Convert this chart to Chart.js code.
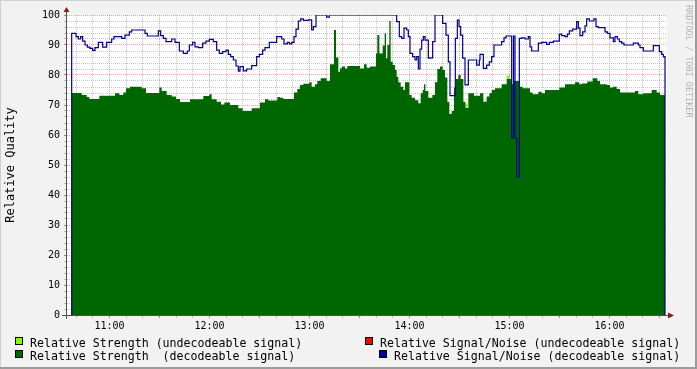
<!DOCTYPE html>
<html>
<head>
<meta charset="utf-8">
<script src="https://cdn.jsdelivr.net/npm/chart.js@4.4.0/dist/chart.umd.min.js"></script>
<style>
html,body{margin:0;padding:0;background:#f2f2f2;}
#wrap{position:relative;width:697px;height:369px;background:#f2f2f2;overflow:hidden;font-family:"DejaVu Sans Mono",monospace;
  box-shadow: inset -2px -2px 0 #9c9c9c, inset 1px 1px 0 #d0d0d0;}
canvas{position:absolute;left:0;top:0;}
.lg{position:absolute;font-size:11.6px;line-height:13px;color:#000;white-space:pre;}
.sw{position:absolute;width:6px;height:6px;border:1px solid #000;}
#wm{position:absolute;left:684px;top:5px;writing-mode:vertical-rl;font-size:8.5px;line-height:10px;color:#b4b4b4;white-space:pre;}
</style>
</head>
<body>
<div id="wrap">
<canvas id="c" width="697" height="369"></canvas>
<div class="sw" style="left:15px;top:337px;background:#80ff00"></div>
<div class="lg" style="left:30px;top:337px">Relative Strength (undecodeable signal)</div>
<div class="sw" style="left:15px;top:350px;background:#006600"></div>
<div class="lg" style="left:30px;top:350px">Relative Strength  (decodeable signal)</div>
<div class="sw" style="left:365px;top:337px;background:#ff0000"></div>
<div class="lg" style="left:380px;top:337px">Relative Signal/Noise (undecodeable signal)</div>
<div class="sw" style="left:379px;top:350px;background:#000099"></div>
<div class="lg" style="left:394px;top:350px">Relative Signal/Noise (decodeable signal)</div>
<div id="wm">RRDTOOL / TOBI OETIKER</div>
</div>
<script>
// time axis in minutes after 10:00
const hourMinutes = [60, 120, 180, 240, 300, 360];
const hourLabels = ['11:00', '12:00', '13:00', '14:00', '15:00', '16:00'];
const yLabelValues = [0, 10, 20, 30, 40, 50, 60, 70, 80, 90, 100];

// Relative Strength (decodeable signal): step start times (min after 10:00) and values
const strengthTimes = [
  37.3,43.3,46.3,47.9,53.9,63.3,65.9,68.3,69.9,72.3,
  79.3,81.9,89.9,91.3,94.3,97.3,99.9,102.3,108.3,116.3,
  119.9,121.3,124.3,126.9,128.9,132.3,137.3,139.9,145.3,150.3,
  153.3,155.3,160.7,162.3,164.3,170.7,172.7,174.3,176.3,179.9,
  181.3,183.3,184.7,186.7,190.3,192.3,194.7,195.9,197.3,198.3,
  199.3,201.3,202.7,210.3,212.7,214.3,216.3,219.9,220.7,221.9,
  223.9,225.1,225.9,226.7,227.9,228.7,229.9,231.3,232.3,233.3,
  234.7,236.3,237.3,239.9,241.3,243.3,245.3,246.7,247.9,248.7,
  249.5,251.3,253.7,255.3,256.7,258.3,259.9,261.3,262.7,263.9,
  265.3,266.7,267.9,269.3,270.7,272.3,273.5,275.3,278.7,282.3,
  284.3,286.3,287.9,289.3,291.3,295.3,298.3,301.3,302.3,305.9,
  307.9,312.3,313.9,317.3,319.3,321.3,329.9,333.3,339.3,341.9,
  343.3,346.7,349.9,352.7,354.3,358.3,360.3,362.3,364.3,366.3,
  375.3,377.3,380.3,385.3,388.3,390.3,393.3
];
const strengthValues = [
  74,73.3,72.7,72,73.1,73.9,73.3,74.2,75.6,76.1,
  75.6,74,75.8,74.7,73.3,72.8,72,71,71.9,73,
  73.6,71.9,71.1,70.2,70.8,70,68.9,68,68.9,70.8,
  71.9,71.5,72.7,72.4,72,74.2,75.3,76.7,77.1,77.6,
  76.1,76.9,78,78.9,78,83.6,95,85.8,81.1,82.2,
  82.8,82.2,83,82.2,83.6,82.4,82.8,87.2,93.3,87.2,
  89.8,93.9,85.6,90,98,84.4,83.3,81.7,79.4,77.6,
  76.1,75,77.6,73.3,72.4,71.6,70.6,73.9,75,76.9,
  74.7,72.4,73.3,77.6,82,82.8,81.7,79.2,71.1,67,
  68,75.8,78.7,80,78.7,71.1,69,73.9,73.1,73.9,
  71.1,72.8,73.9,75,75.6,76.9,78.7,76.9,78,76.1,
  75.6,74.2,73.6,74.4,73.9,75,75.8,76.9,77.6,76.9,
  77.2,77.8,78.9,78,76.9,76.7,75.8,76.1,75.3,74.2,
  74.7,73.6,73.9,75,74.2,73.3,73.3
];

// Relative Strength (undecodeable signal): short intervals
const undecStart = [273.3, 298.5];
const undecEnd = [274.7, 300.3];
const undecValues = [70.5, 79.8];

// Relative Signal/Noise (decodeable signal)
const snrTimes = [
  37.3,39.9,41.3,42.7,43.9,45.3,46.7,48.3,49.9,51.3,
  53.3,55.9,58.3,61.3,62.7,67.3,69.3,71.9,73.3,81.3,
  82.7,89.3,90.7,92.3,93.9,97.3,99.3,101.9,104.3,106.7,
  107.9,109.9,111.3,113.3,115.9,117.9,119.9,122.3,124.3,125.9,
  127.9,129.9,131.3,132.7,134.3,135.9,137.3,138.3,140.3,142.3,
  145.3,148.3,149.9,151.9,153.3,155.9,160.3,163.3,164.7,166.7,
  167.9,169.3,170.7,171.9,173.3,174.7,176.3,179.3,181.3,182.3,
  183.9,190.3,191.9,232.3,233.9,235.3,236.7,238.3,239.3,240.3,
  241.9,243.3,244.3,245.3,246.3,247.3,248.3,249.3,251.3,252.3,
  253.9,255.3,259.9,261.9,263.3,264.3,267.5,268.7,269.7,270.7,
  271.9,273.3,275.3,280.3,281.9,282.3,284.3,286.3,287.9,289.3,
  290.7,295.3,296.7,297.9,301.3,302.4,303.3,304.3,305.9,307.3,
  309.3,311.3,312.3,313.3,317.3,319.3,322.3,323.9,326.3,329.9,
  331.3,333.3,334.7,335.9,337.9,340.3,341.3,342.3,343.9,345.3,
  346.3,347.9,350.7,351.9,353.3,357.3,358.7,360.3,362.3,363.3,
  364.7,365.9,367.3,368.7,374.3,377.3,378.3,380.3,386.3,389.9,
  391.3,392.3,393.3
];
const snrValues = [
  93.9,92.8,92,92.8,91.3,90,89.3,88.9,88.2,89.1,
  90.9,89.3,90.9,92,92.8,92.2,93.3,94.4,95,93.9,
  93,94.7,93.1,92.2,91.1,92,90.9,88,87.2,88,
  90,90.9,89.4,89.1,90.6,91.3,91.9,91.1,88.3,87.2,
  87.8,88.3,86.9,86.1,85,83,81.3,82.8,81.4,82,
  83.1,86.1,86.9,88.3,89.1,90.9,92.8,92,90.4,90.9,
  90.4,90.9,92.8,95.3,98,98.7,98.2,98.4,95,96.1,
  100,99.3,100,97.8,92.8,92.2,95.6,95,92.8,87.2,
  86.1,85,86.1,82,88.6,91.6,92.8,91.6,85.6,85.7,
  91.1,100,97.2,93.3,84.4,73.1,92.2,98.3,96.1,93.3,
  85.6,76.7,85,83.3,85,86.9,82.2,83.3,84.4,86.1,
  90,91.1,92.4,93,59,93,59,46,92.2,92.4,
  92,92.8,89.4,88,90.6,90.9,90.2,90.9,91.3,93.6,
  93.1,92.8,93.6,94.7,95.3,97.8,95.6,93.1,94.4,96.4,
  98.7,98,98.7,96.1,95.8,94.4,93.9,92.4,91.1,92.8,
  92,91.1,90.6,90,90.6,90,89.1,88,89.8,87.8,
  86.9,86.1,86.1
];

// Relative Signal/Noise (undecodeable signal): nothing visible
const snrUndecTimes = [];
const snrUndecValues = [];

// each value holds from its time until the next time (Chart.js 'before' stepping keeps the previous value)
const toPts = (ts, vs) => ts.map((t, i) => ({x: t, y: vs[i]}));
const strengthPts = toPts(strengthTimes, strengthValues);
const snrPts = [{x: snrTimes[0], y: 0}].concat(toPts(snrTimes, snrValues), [{x: snrTimes[snrTimes.length - 1], y: 0}]);
const undecPts = [];
undecStart.forEach((s, i) => {
  undecPts.push({x: s, y: undecValues[i]}, {x: undecEnd[i], y: undecValues[i]}, {x: undecEnd[i] + 0.05, y: null});
});

const xTickValues = [];
for (let m = 40; m <= 390; m += 10) xTickValues.push(m);
const yTickValues = [];
for (let v = 0; v <= 100; v += 2) yTickValues.push(v);

const MINOR = 'rgba(160,160,160,0.6)';
const MAJOR = 'rgba(225,70,70,0.5)';
const MONO = 'DejaVu Sans Mono';

const frame = {
  id: 'frame',
  beforeDraw(chart) {
    const a = chart.chartArea, g = chart.ctx;
    g.save();
    g.fillStyle = '#ffffff';
    g.fillRect(a.left, a.top, a.right - a.left, a.bottom - a.top);
    g.restore();
  },
  afterDraw(chart) {
    const a = chart.chartArea, g = chart.ctx;
    const ax = a.left - 0.5, ay = a.bottom + 0.5;
    g.save();
    g.strokeStyle = '#505050';
    g.lineWidth = 1;
    g.beginPath();
    g.moveTo(ax, a.bottom + 4); g.lineTo(ax, a.top - 5);
    g.moveTo(a.left - 5, ay); g.lineTo(a.right + 2, ay);
    g.stroke();
    g.fillStyle = '#8c1a1a';
    g.beginPath();
    g.moveTo(ax - 3, a.top - 3); g.lineTo(ax + 3, a.top - 3); g.lineTo(ax, a.top - 8); g.closePath();
    g.fill();
    g.beginPath();
    g.moveTo(a.right + 1, ay - 3); g.lineTo(a.right + 1, ay + 3); g.lineTo(a.right + 7, ay); g.closePath();
    g.fill();
    g.restore();
  }
};

new Chart(document.getElementById('c'), {
  type: 'line',
  data: {
    datasets: [
      {label: 'Relative Signal/Noise (decodeable signal)', data: snrPts, borderColor: '#00008f', borderWidth: 1.2,
       stepped: 'before', fill: false, pointRadius: 0, order: 0},
      {label: 'Relative Signal/Noise (undecodeable signal)', data: toPts(snrUndecTimes, snrUndecValues), borderColor: '#ff0000',
       borderWidth: 1.2, stepped: 'before', fill: false, pointRadius: 0, order: 1},
      {label: 'Relative Strength (decodeable signal)', data: strengthPts, borderWidth: 0, backgroundColor: '#006600',
       stepped: 'before', fill: 'origin', pointRadius: 0, order: 2},
      {label: 'Relative Strength (undecodeable signal)', data: undecPts, borderWidth: 0, backgroundColor: '#80ff00',
       stepped: 'before', fill: 'origin', pointRadius: 0, order: 3}
    ]
  },
  options: {
    responsive: false,
    animation: false,
    devicePixelRatio: 1,
    events: [],
    layout: {padding: {left: 0, top: 15, right: 30, bottom: 0}},
    plugins: {legend: {display: false}, tooltip: {enabled: false}},
    scales: {
      x: {
        type: 'linear', min: 34.5, max: 394.5, z: 1,
        afterBuildTicks: s => { s.ticks = xTickValues.map(v => ({value: v})); },
        afterFit: s => { s.height = 54; },
        grid: {
          color: c => (c.tick && c.tick.value % 30 === 0) ? MAJOR : MINOR,
          tickColor: c => (c.tick && c.tick.value % 30 === 0) ? 'rgba(210,80,80,0.8)' : 'rgba(150,150,150,0.6)',
          lineWidth: 1, drawTicks: true, tickLength: 3
        },
        border: {display: false, dash: [1, 1]},
        ticks: {
          autoSkip: false, maxRotation: 0, minRotation: 0, padding: 2, color: '#000',
          font: {family: MONO, size: 10},
          callback: v => { const i = hourMinutes.indexOf(v); return i >= 0 ? hourLabels[i] : ''; }
        }
      },
      y: {
        min: 0, max: 100, z: 1,
        afterBuildTicks: s => { s.ticks = yTickValues.map(v => ({value: v})); },
        afterFit: s => { s.width = 67; },
        grid: {
          color: c => (c.tick && c.tick.value % 10 === 0) ? MAJOR : MINOR,
          tickColor: c => (c.tick && c.tick.value % 10 === 0) ? 'rgba(210,80,80,0.8)' : 'rgba(150,150,150,0.6)',
          lineWidth: 1, drawTicks: true, tickLength: 3
        },
        border: {display: false, dash: [1, 1]},
        ticks: {
          autoSkip: false, padding: 4, color: '#000',
          font: {family: MONO, size: 10},
          callback: v => yLabelValues.indexOf(v) >= 0 ? String(v) : ''
        },
        title: {
          display: true, text: 'Relative Quality', color: '#000',
          font: {family: MONO, size: 12}, padding: {top: 4, bottom: 0}
        }
      }
    }
  },
  plugins: [frame]
});
</script>
</body>
</html>
